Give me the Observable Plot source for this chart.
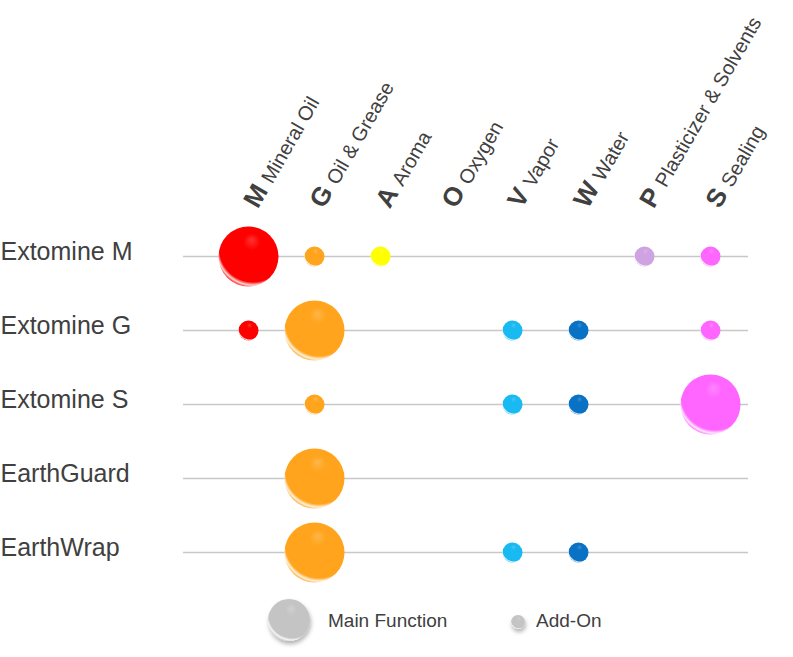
<!DOCTYPE html>
<html>
<head>
<meta charset="utf-8">
<script src="https://cdn.jsdelivr.net/npm/d3@7"></script>
<script src="https://cdn.jsdelivr.net/npm/@observablehq/plot@0.6"></script>
<style>
  body { margin: 0; background: #fff; font-family: "Liberation Sans", Arial, sans-serif; }
  #wrap { position: relative; width: 793px; height: 657px; }
</style>
</head>
<body>
<div id="wrap"></div>
<script>
// ---- Data ----
const products = ["Extomine M", "Extomine G", "Extomine S", "EarthGuard", "EarthWrap"];
const codes = ["M", "G", "A", "O", "V", "W", "P", "S"];
const functionNames = ["Mineral Oil", "Oil & Grease", "Aroma", "Oxygen", "Vapor", "Water", "Plasticizer & Solvents", "Sealing"];
// level per function (order of codes): 3 = main function, 1 = add-on, 0 = none
const extomineM  = [3, 1, 1, 0, 0, 0, 1, 1];
const extomineG  = [1, 3, 0, 0, 1, 1, 0, 1];
const extomineS  = [0, 1, 0, 0, 1, 1, 0, 3];
const earthGuard = [0, 3, 0, 0, 0, 0, 0, 0];
const earthWrap  = [0, 3, 0, 0, 1, 1, 0, 0];
const legendLabels = ["Main Function", "Add-On"];

// ---- Styles ----
const palette = ["#ff0000", "#ffa41c", "#ffff00", "#9e9e9e", "#19b9f1", "#0a72c4", "#cfa2e2", "#ff66ff"];
const levels = [extomineM, extomineG, extomineS, earthGuard, earthWrap];

const cells = products.flatMap((p, i) =>
  codes.map((c, j) => ({product: p, code: c, level: levels[i][j]})).filter(d => d.level > 0)
);
const headers = codes.map((c, j) => ({code: c, name: functionNames[j]}));

const W = 793, H = 590;
const textColor = "#404040";

const svg = Plot.plot({
  width: W,
  height: H,
  marginLeft: 183,
  marginRight: 45,
  marginTop: 202,
  marginBottom: 20,
  style: {fontFamily: "'Liberation Sans', Arial, sans-serif", background: "#fff"},
  x: {type: "point", domain: codes, range: [245, 713], padding: 0, axis: null},
  y: {type: "point", domain: products, range: [256, 552], padding: 0, axis: null},
  r: {type: "linear", domain: [0, 3], range: [0, 30]},
  color: {type: "identity"},
  marks: [
    Plot.ruleY(products, {y: d => d, stroke: "#c8c8c8", strokeWidth: 1.5}),
    Plot.text(products, {y: d => d, text: d => d, frameAnchor: "left", textAnchor: "start",
      dx: -183, dy: -5, fontSize: 25, fill: textColor}),
    Plot.text(headers, {x: "code", text: d => d.code + "|" + d.name, frameAnchor: "top",
      textAnchor: "start", rotate: -60, dx: -3, fontSize: 20, fill: textColor}),
    Plot.dot(cells, {x: "code", y: "product", r: "level",
      fill: d => `url(#gloss-${codes.indexOf(d.code)})`, stroke: "none", ariaLabel: "bubbles"})
  ]
});

const defs = d3.select(svg).insert("defs", ":first-child");
function addGradient(defsSel, id, color) {
  const light = d3.interpolateRgb(color, "#ffffff")(0.85);
  const soft = d3.interpolateRgb(color, "#ffffff")(0.2);
  const g = defsSel.append("radialGradient").attr("id", id)
    .attr("cx", "0.58").attr("cy", "0.40").attr("r", "0.7")
    .attr("fx", "0.55").attr("fy", "0.22");
  g.append("stop").attr("offset", "0").attr("stop-color", soft);
  g.append("stop").attr("offset", "0.2").attr("stop-color", color);
  g.append("stop").attr("offset", "0.80").attr("stop-color", color);
  g.append("stop").attr("offset", "0.86").attr("stop-color", light);
  g.append("stop").attr("offset", "0.92").attr("stop-color", color);
  g.append("stop").attr("offset", "1").attr("stop-color", color);
}
function addShadow(defsSel, id) {
  const f = defsSel.append("filter").attr("id", id)
    .attr("x", "-50%").attr("y", "-50%").attr("width", "200%").attr("height", "200%");
  f.append("feDropShadow").attr("dx", 1).attr("dy", 3).attr("stdDeviation", 2)
    .attr("flood-color", "#000").attr("flood-opacity", 0.3);
}
palette.forEach((c, i) => addGradient(defs, `gloss-${i}`, c));
addShadow(defs, "shadow");
d3.select(svg).select('g[aria-label="bubbles"]').attr("filter", "url(#shadow)");

// Header rich text: bold code + regular name
d3.select(svg).selectAll("text").each(function () {
  const t = d3.select(this);
  const s = t.text();
  if (s.indexOf("|") < 0) return;
  const [code, name] = s.split("|");
  t.text(null);
  t.append("tspan").attr("font-weight", "bold").attr("font-size", 26).text(code);
  t.append("tspan").attr("dx", 7).text(name);
});

const wrap = document.getElementById("wrap");
wrap.appendChild(svg);

// Legend below the chart
const leg = d3.select(wrap).append("svg")
  .attr("width", W).attr("height", 657 - H)
  .style("display", "block")
  .style("font-family", "'Liberation Sans', Arial, sans-serif");
const ldefs = leg.append("defs");
addGradient(ldefs, "gloss-legend", "#c4c4c4");
addShadow(ldefs, "shadow-legend");
const ly = 30;
leg.append("circle").attr("cx", 289).attr("cy", ly).attr("r", 21)
  .attr("fill", "url(#gloss-legend)").attr("filter", "url(#shadow-legend)");
leg.append("text").attr("x", 328).attr("y", ly).attr("dy", "0.35em")
  .attr("font-size", 19).attr("fill", textColor).text(legendLabels[0]);
leg.append("circle").attr("cx", 518).attr("cy", ly + 2).attr("r", 7)
  .attr("fill", "url(#gloss-legend)").attr("filter", "url(#shadow-legend)");
leg.append("text").attr("x", 536).attr("y", ly).attr("dy", "0.35em")
  .attr("font-size", 19).attr("fill", textColor).text(legendLabels[1]);
</script>
</body>
</html>
